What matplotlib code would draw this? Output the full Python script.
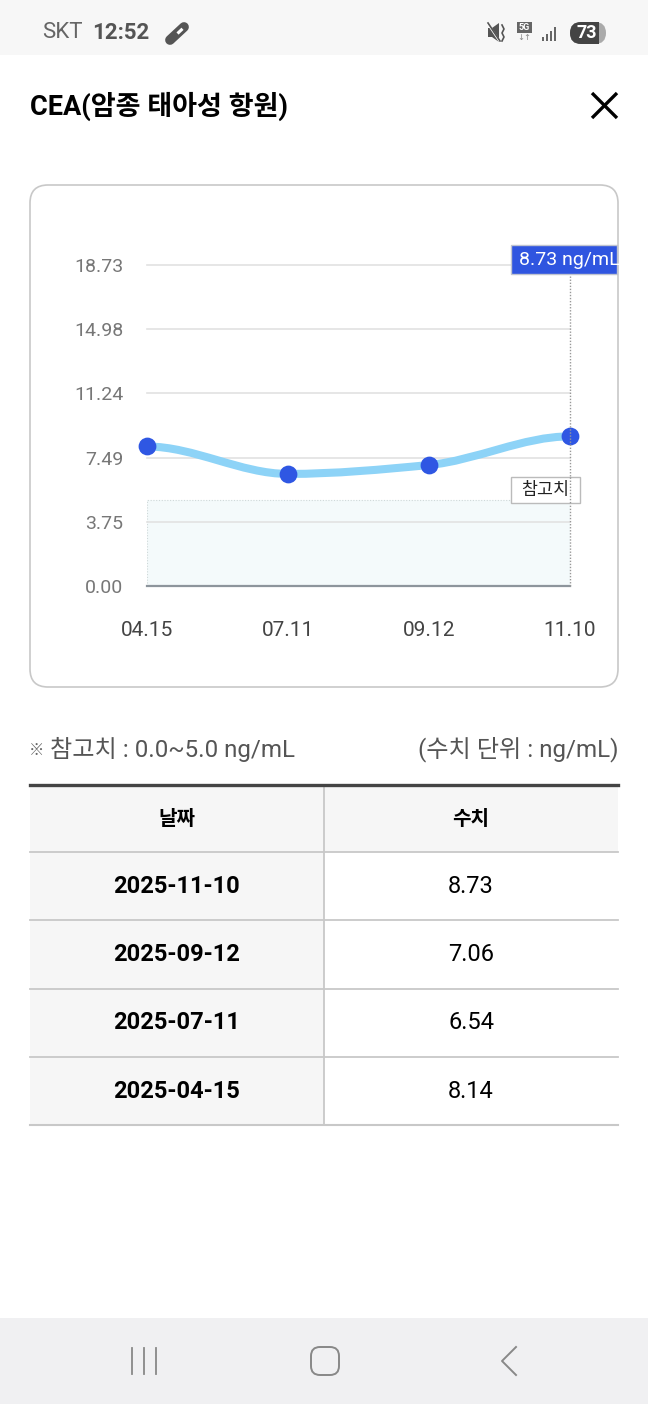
import matplotlib
matplotlib.use("Agg")
import matplotlib.pyplot as plt
from matplotlib.patches import FancyBboxPatch, Rectangle, PathPatch
from matplotlib.path import Path
import numpy as np

# ---------------- data ----------------
dates_short = ['04.15', '07.11', '09.12', '11.10']
values = [8.14, 6.54, 7.06, 8.73]
y_ticks = [0.00, 3.75, 7.49, 11.24, 14.98, 18.73]
ref_low, ref_high = 0.0, 5.0
table_dates = ['2025-11-10', '2025-09-12', '2025-07-11', '2025-04-15']
table_values = ['8.73', '7.06', '6.54', '8.14']
title = 'CEA(암종 태아성 항원)'
unit = 'ng/mL'

FONT = ['Roboto', 'Noto Sans CJK KR', 'DejaVu Sans']
KFONT = ['Noto Sans CJK KR', 'DejaVu Sans']
plt.rcParams['font.family'] = FONT

W, H = 648, 1404
fig = plt.figure(figsize=(W / 100, H / 100), dpi=100)
fig.patch.set_facecolor('white')

# UI layer in pixel coords
ui = fig.add_axes([0, 0, 1, 1], zorder=0)
ui.set_xlim(0, W)
ui.set_ylim(H, 0)
ui.axis('off')

# status bar
ui.add_patch(Rectangle((0, 0), W, 55, facecolor='#f7f7f7', edgecolor='none'))
ui.text(42, 33, 'SKT', fontsize=16, color='#666666', va='center', ha='left', family=FONT)
ui.text(92, 33, '12:52', fontsize=16, color='#555555', va='center', ha='left',
        fontweight='bold', family=FONT)
ui.plot([170, 184], [40, 27], color='#555555', lw=7, solid_capstyle='round')
ui.plot([177.5, 182.5], [33.5, 28.8], color='white', lw=2.2, solid_capstyle='butt')
# mute icon
ui.add_patch(Rectangle((488, 28), 5, 9, facecolor='#555555', edgecolor='none'))
ui.add_patch(PathPatch(Path([(492, 28), (499, 23), (499, 42), (492, 37), (492, 28)]),
                       facecolor='#555555', edgecolor='none'))
ui.plot([488, 500], [24, 42], color='white', lw=1.5)
ui.plot([488, 500], [23, 41], color='#555555', lw=1.2)
ui.plot([502, 504, 502, 504, 502], [25, 29, 33, 37, 41], color='#555555', lw=1.2)
# 5G
ui.add_patch(Rectangle((517, 22), 15, 11, facecolor='#666666', edgecolor='none'))
ui.text(524.5, 27.5, '5G', fontsize=6.5, color='white', ha='center', va='center',
        fontweight='bold', family=FONT)
ui.text(524.5, 38, '↓↑', fontsize=6, color='#888888', ha='center', va='center', family=['DejaVu Sans'])
# signal bars
for i, hgt in enumerate([4, 7, 10, 14]):
    ui.add_patch(Rectangle((542 + i * 4, 41 - hgt), 2, hgt, facecolor='#666666', edgecolor='none'))
# battery
ui.add_patch(FancyBboxPatch((570, 22), 36, 22, boxstyle='round,pad=0,rounding_size=11',
                            facecolor='#aaaaaa', edgecolor='none'))
ui.add_patch(FancyBboxPatch((570, 22), 28, 22, boxstyle='round,pad=0,rounding_size=11',
                            facecolor='#444444', edgecolor='none'))
ui.add_patch(Rectangle((586, 22), 13, 22, facecolor='#444444', edgecolor='none'))
ui.text(587, 33.5, '73', fontsize=13, color='white', ha='center', va='center',
        fontweight='bold', family=FONT)

# header
ui.text(30, 106, title, fontsize=19.5, fontweight='bold', color='black', va='center',
        ha='left', family=FONT)
ui.plot([592, 617], [93, 118], color='black', lw=2.4, solid_capstyle='butt')
ui.plot([617, 592], [93, 118], color='black', lw=2.4, solid_capstyle='butt')

# card
ui.add_patch(FancyBboxPatch((30, 185), 588, 502, boxstyle='round,pad=0,rounding_size=18',
                            facecolor='white', edgecolor='#c8c8c8', lw=1.2))

# notes
ui.text(29, 750, '※', fontsize=11, color='#666666', va='center', ha='left', family=KFONT)
ui.text(50, 749, f'참고치 : {ref_low:.1f}~{ref_high:.1f} {unit}', fontsize=17.4, color='#555555',
        va='center', ha='left', family=FONT)
ui.text(618, 749, f'(수치 단위 : {unit})', fontsize=17.4, color='#555555', va='center',
        ha='right', family=FONT)

# table
tx0, tx1, tmid = 30, 618, 324
top, hdr_h, row_h = 785, 67, 68.3
ui.add_patch(Rectangle((tx0, top), tx1 - tx0, hdr_h, facecolor='#f6f6f6', edgecolor='none'))
n = len(table_dates)
for i in range(n):
    y0 = top + hdr_h + i * row_h
    ui.add_patch(Rectangle((tx0, y0), tmid - tx0, row_h, facecolor='#f6f6f6', edgecolor='none'))
    ui.plot([tx0, tx1], [y0, y0], color='#c8c8c8', lw=1.3)
    yc = y0 + row_h / 2
    ui.text((tx0 + tmid) / 2, yc, table_dates[i], fontsize=17, fontweight='bold', color='black',
            ha='center', va='center', family=FONT)
    ui.text((tmid + tx1) / 2, yc, table_values[i], fontsize=17, color='black',
            ha='center', va='center', family=FONT)
ybot = top + hdr_h + n * row_h
ui.plot([tx0, tx1], [ybot, ybot], color='#c8c8c8', lw=1.5)
ui.plot([tmid, tmid], [top, ybot], color='#c8c8c8', lw=1.3)
ui.plot([tx0, tx1], [top, top], color='#444444', lw=2.4)
ui.text((tx0 + tmid) / 2, top + hdr_h / 2, '날짜', fontsize=14.5, fontweight='bold',
        ha='center', va='center', family=KFONT)
ui.text((tmid + tx1) / 2, top + hdr_h / 2, '수치', fontsize=14.5, fontweight='bold',
        ha='center', va='center', family=KFONT)

# nav bar
ui.add_patch(Rectangle((0, 1318), W, H - 1318, facecolor='#f0f0f2', edgecolor='none'))
for xx in [132, 144, 156]:
    ui.plot([xx, xx], [1348, 1374], color='#888888', lw=1.3)
ui.add_patch(FancyBboxPatch((311, 1347), 28, 28, boxstyle='round,pad=0,rounding_size=9',
                            facecolor='none', edgecolor='#888888', lw=1.4))
ui.plot([516, 502, 516], [1347, 1361, 1375], color='#888888', lw=1.4)

# ---------------- chart ----------------
px_left, px_right, px_top, px_bot = 147, 570, 265, 586
ax = fig.add_axes([px_left / W, 1 - px_bot / H, (px_right - px_left) / W, (px_bot - px_top) / H],
                  zorder=1)
ax.set_facecolor('none')
x = np.arange(len(values))
ax.set_xlim(x[0], x[-1])
ax.set_ylim(y_ticks[0], y_ticks[-1])
for s in ax.spines.values():
    s.set_visible(False)
ax.set_yticks(y_ticks)
ax.set_yticklabels([f'{v:.2f}' for v in y_ticks])
ax.set_xticks(x)
ax.set_xticklabels(dates_short)
ax.tick_params(axis='y', length=0, pad=17, labelsize=14, labelcolor='#777777')
ax.tick_params(axis='x', length=0, pad=25, labelsize=15, labelcolor='#444444')
for v in y_ticks[1:]:
    ax.axhline(v, color='#e2e2e2', lw=1.2, zorder=1, clip_on=False)

# reference band
ax.fill_between([x[0], x[-1]], ref_low, ref_high, color='#f4fafb', zorder=0.5, lw=0)
ax.plot([x[0], x[-1], x[-1], x[0], x[0]], [ref_low, ref_low, ref_high, ref_high, ref_low],
        color='#cfd8d8', lw=0.8, ls=(0, (1, 1.5)), zorder=0.6)
ax.axhline(0, color='#8d959c', lw=1.6, zorder=2, clip_on=False)

# smooth monotone (PCHIP-style) curve with flat ends, drawn as cubic Bezier segments
xs = np.array(x, dtype=float)
ys = np.array(values, dtype=float)
hh = np.diff(xs)
sl = np.diff(ys) / hh
tan = np.zeros(len(ys))
for i in range(1, len(ys) - 1):
    if sl[i - 1] * sl[i] > 0:
        tan[i] = 2.0 / (1.0 / sl[i - 1] + 1.0 / sl[i])
verts = [(xs[0], ys[0])]
codes = [Path.MOVETO]
for i in range(1, len(xs)):
    d = hh[i - 1] / 3
    verts += [(xs[i - 1] + d, ys[i - 1] + tan[i - 1] * d), (xs[i] - d, ys[i] - tan[i] * d),
              (xs[i], ys[i])]
    codes += [Path.CURVE4] * 3
ax.add_patch(PathPatch(Path(verts, codes), facecolor='none', edgecolor='#8dd3f7', lw=5.8,
                       capstyle='round', joinstyle='round', zorder=3, clip_on=False))
ax.plot(xs, ys, 'o', color='#2f57e3', markersize=12.8, markeredgewidth=0, zorder=4, clip_on=False)

# crosshair at last point
ax.plot([xs[-1], xs[-1]], [0, 18.2], color='#999999', lw=1.0, ls=(0, (1, 1.2)), zorder=6,
        clip_on=False)

# overlay for labels
ov = fig.add_axes([0, 0, 1, 1], zorder=2)
ov.set_xlim(0, W)
ov.set_ylim(H, 0)
ov.axis('off')
ov.patch.set_alpha(0)
# reference label box
ov.add_patch(Rectangle((511, 477), 69, 26, facecolor='white', edgecolor='#bbbbbb', lw=1.0, zorder=1))
ov.text(545, 490, '참고치', fontsize=12.5, color='#222222', ha='center', va='center',
        family=KFONT, zorder=2)
# tooltip
ov.add_patch(Rectangle((511, 245), 106, 29, facecolor='#2f55e0', edgecolor='#c0c4d0', lw=1.0, zorder=3))
clip = Rectangle((511, 240), 106, 40, transform=ov.transData, facecolor='none', edgecolor='none')
ov.add_patch(clip)
tt = ov.text(519, 260, f'{values[-1]:.2f} {unit}', fontsize=14, color='white', ha='left',
             va='center', family=FONT, zorder=4)
tt.set_clip_path(clip)
ov.plot([570, 570], [477, 503], color='#999999', lw=1.0, ls=(0, (1, 1.2)), zorder=5)

fig.savefig('out.png', dpi=100, facecolor='white')
